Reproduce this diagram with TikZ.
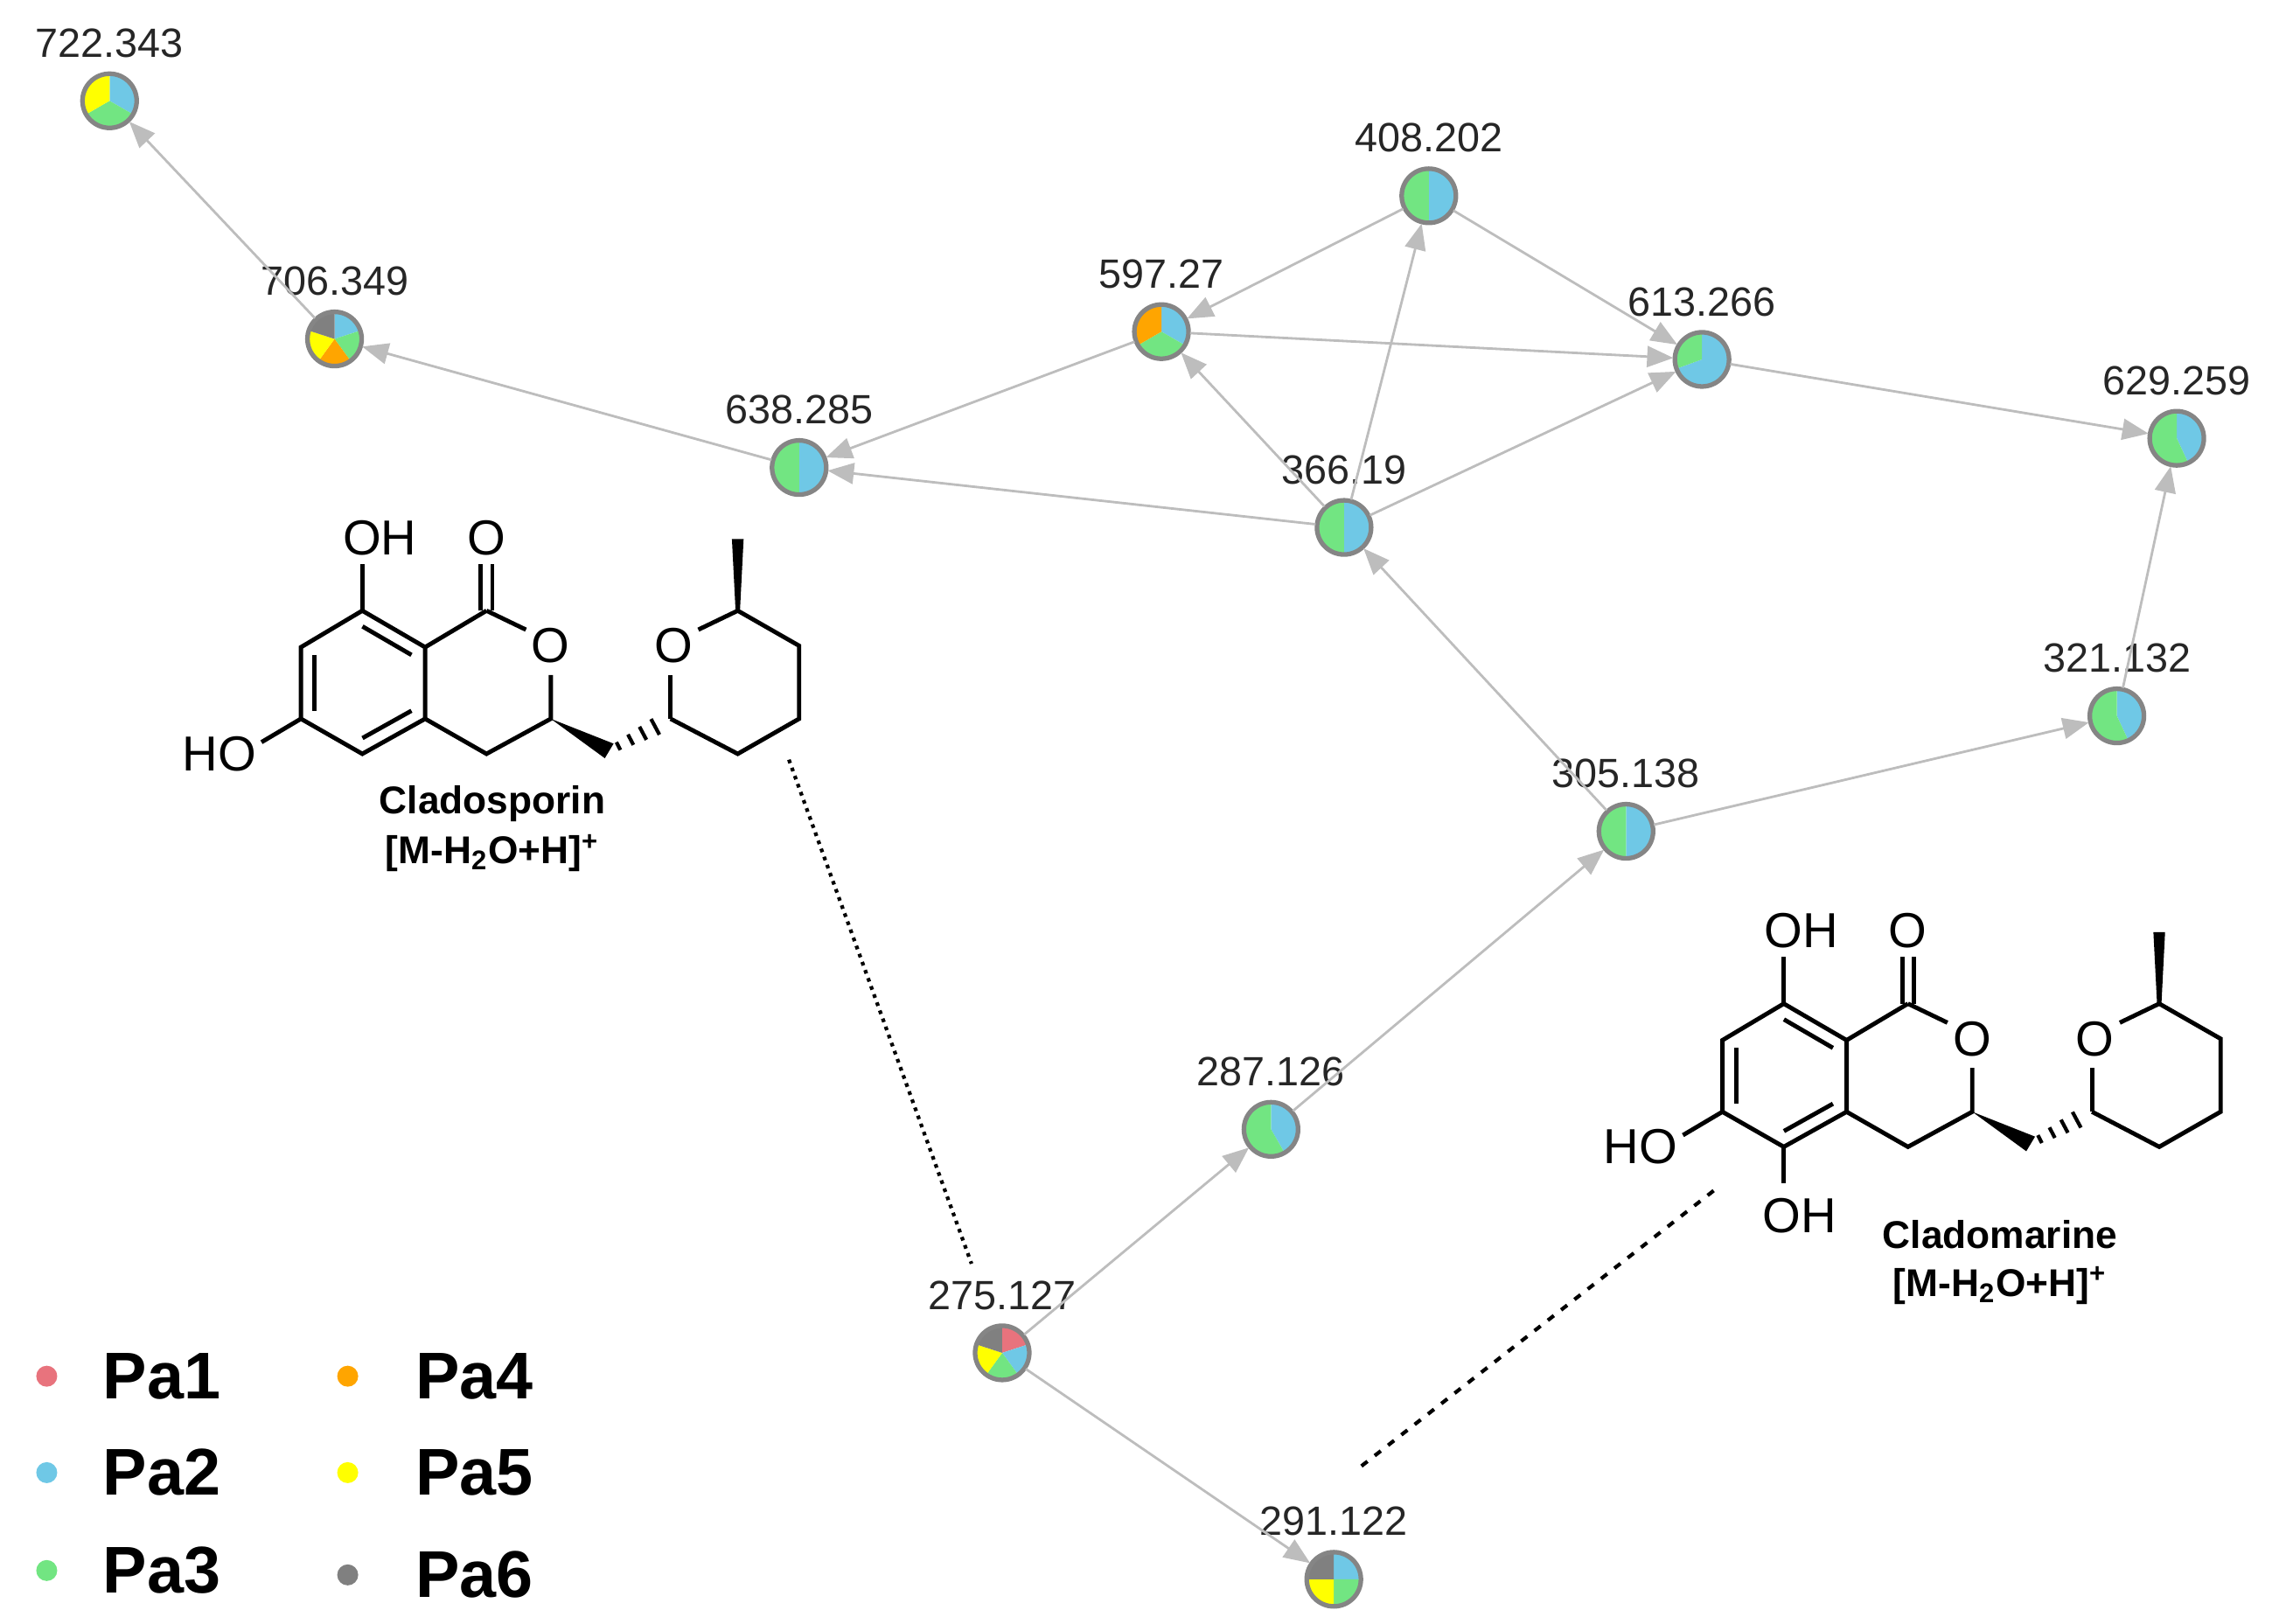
\documentclass[tikz,border=0pt]{standalone}
\usepackage{fontspec}
\setmainfont{Liberation Sans}
\usetikzlibrary{arrows.meta,calc}
\definecolor{pa1}{HTML}{E8737D}
\definecolor{pa2}{HTML}{6FC8E6}
\definecolor{pa3}{HTML}{72E582}
\definecolor{pa4}{HTML}{FFA500}
\definecolor{pa5}{HTML}{FFFF00}
\definecolor{pa6}{HTML}{808080}
\definecolor{edgegray}{HTML}{BDBDBD}
\definecolor{bordergray}{HTML}{858585}
\newcommand\pienode[5]{%
  \foreach \a/\b/\c in {#5} {\fill[\c] (#2,#3) -- ++(\a:0.3cm) arc[start angle=\a,end angle=\b,radius=0.3cm] -- cycle;}
  \node[pie,label={[lbl]90:#4}] (#1) at (#2,#3) {};}
\begin{document}
\begin{tikzpicture}[x=0.01671cm,y=-0.01671cm,
  pie/.style={circle,draw=bordergray,line width=1.5pt,minimum size=0.62cm,inner sep=0pt,outer sep=0.5pt},
  lbl/.style={font=\fontsize{13.3}{15}\selectfont,text=black!85,inner sep=0pt,label distance=0.16cm},
  edge/.style={draw=edgegray,line width=0.8pt,-{Triangle[length=0.3cm,width=0.24cm]}},
  bond/.style={line width=1.4pt,line cap=butt},
  atom/.style={font=\fontsize{16}{18}\selectfont,inner sep=0pt},
  cname/.style={font=\bfseries\fontsize{12.6}{14}\selectfont,inner sep=0pt,align=center},
  leg/.style={font=\bfseries\fontsize{21.5}{24}\selectfont,inner sep=0pt,anchor=west},
  dot/.style={circle,inner sep=0pt,minimum size=0.24cm}]
\useasboundingbox (0,0) rectangle (1560,1111.6);

% ---------- nodes ----------
\pienode{n722}{75}{69}{722.343}{-30/90/pa2,-150/-30/pa3,90/210/pa5}
\pienode{n706}{229}{232}{706.349}{18/90/pa2,-54/18/pa3,-126/-54/pa4,162/234/pa5,90/162/pa6}
\pienode{n597}{795}{227}{597.27}{-30/90/pa2,-150/-30/pa3,90/210/pa4}
\pienode{n408}{978}{134}{408.202}{-90/90/pa2,90/270/pa3}
\pienode{n613}{1165}{246}{613.266}{-160/90/pa2,90/200/pa3}
\pienode{n629}{1490}{300}{629.259}{-65/90/pa2,90/295/pa3}
\pienode{n638}{547}{320}{638.285}{-90/90/pa2,90/270/pa3}
\pienode{n366}{920}{361}{366.19}{-90/90/pa2,90/270/pa3}
\pienode{n321}{1449}{490}{321.132}{-65/90/pa2,90/295/pa3}
\pienode{n305}{1113}{569}{305.138}{-90/90/pa2,90/270/pa3}
\pienode{n287}{870}{773}{287.126}{-60/90/pa2,90/300/pa3}
\pienode{n275}{686}{926}{275.127}{18/90/pa1,-54/18/pa2,-126/-54/pa3,162/234/pa5,90/162/pa6}
\pienode{n291}{913}{1081}{291.122}{0/90/pa2,-90/0/pa3,180/270/pa5,90/180/pa6}

% ---------- edges ----------
\draw[edge] (n706) -- (n722);
\draw[edge] (n638) -- (n706);
\draw[edge] (n597) -- (n638);
\draw[edge] (n366) -- (n638);
\draw[edge] (n408) -- (n597);
\draw[edge] (n366) -- (n597);
\draw[edge] (n366) -- (n408);
\draw[edge] (n408) -- (n613);
\draw[edge] (n597) -- (n613);
\draw[edge] (n366) -- (n613);
\draw[edge] (n613) -- (n629);
\draw[edge] (n321) -- (n629);
\draw[edge] (n305) -- (n321);
\draw[edge] (n305) -- (n366);
\draw[edge] (n287) -- (n305);
\draw[edge] (n275) -- (n287);
\draw[edge] (n275) -- (n291);

% ---------- molecules ----------
\foreach \sx/\sy/\extra in {0/0/0,973/269/1}{
\begin{scope}[shift={(\sx,\sy)}]
  \coordinate (A8) at (248,418); \coordinate (A8a) at (291,443);
  \coordinate (A4a) at (291,492); \coordinate (A5) at (248,516);
  \coordinate (A6) at (206,492); \coordinate (A7) at (206,443);
  \coordinate (Cc) at (248.5,467);
  \draw[bond,line join=miter] (A8) -- (A8a) -- (A4a) -- (A5) -- (A6) -- (A7) -- cycle;
  \draw[bond] ($(Cc)!0.78!(A8)$) -- ($(Cc)!0.78!(A8a)$);
  \draw[bond] ($(Cc)!0.78!(A7)$) -- ($(Cc)!0.78!(A6)$);
  \draw[bond] ($(Cc)!0.78!(A5)$) -- ($(Cc)!0.78!(A4a)$);
  \draw[bond] (A8) -- (248,386);
  \node[atom] (oh1) at (260,368) {OH};
  \draw[bond] (A6) -- (179,508);
  \node[atom] (ho1) at (150,516) {HO};
  \coordinate (C1) at (333,418);
  \draw[bond] (A8a) -- (C1);
  \draw[bond] (329,418) -- (329,386);
  \draw[bond] (337,418) -- (337,386);
  \node[atom] (o1) at (333,368) {O};
  \draw[bond] (C1) -- (360,431);
  \node[atom] (o2) at (377,442) {O};
  \coordinate (C3) at (377,492); \coordinate (C4) at (333,516);
  \draw[bond,line join=miter] (377,462) -- (C3) -- (C4) -- (A4a);
  \fill (C3) -- (414,519) -- (420,509) -- cycle;
  \foreach \t in {0.15,0.35,0.55,0.75}{
    \draw[line width=1.2pt] ($(417,514)!\t!(459,492)+(-2.5*\t-1,-4.5*\t-2)$) -- ($(417,514)!\t!(459,492)+(2.5*\t+1,4.5*\t+2)$);}
  \coordinate (C2p) at (459,492);
  \draw[bond] (C2p) -- (459,462);
  \node[atom] (o3) at (461,442) {O};
  \coordinate (C6p) at (505,418); \coordinate (C5p) at (547,442);
  \coordinate (C4p) at (547,492); \coordinate (C3p) at (505,516);
  \draw[bond,line join=miter] (478,431) -- (C6p) -- (C5p) -- (C4p) -- (C3p) -- (C2p);
  \fill (503.5,418) -- (501,369) -- (509,369) -- (506.5,418) -- cycle;
  \ifnum\extra=1
    \draw[bond] (A5) -- (248,541);
    \node[atom] (oh5) at (259,563) {OH};
  \fi
\end{scope}}
\node[cname] (nm1) at (337,550) {Cladosporin};
\node[cname] (f1) at (337,584) {[M-H\textsubscript{2}O+H]\textsuperscript{+}};
\node[cname] (nm2) at (1369,845) {Cladomarine};
\node[cname] (f2) at (1369,880) {[M-H\textsubscript{2}O+H]\textsuperscript{+}};

\coordinate (d1) at (540,520);
\coordinate (d1e) at (665,865);
\coordinate (d2) at (1173,815);
\coordinate (d2e) at (930,1005);
\draw[line width=1.2pt,dash pattern=on 1.2pt off 1.6pt] (d1) -- (d1e);
\draw[line width=1.2pt,dash pattern=on 2.5pt off 3pt] (d2) -- (d2e);

% ---------- legend ----------
\node[dot,fill=pa1] (l1) at (32,942) {};
\node[leg] (t1) at (70,942) {Pa1};
\node[dot,fill=pa2] (l2) at (32,1008) {};
\node[leg] (t2) at (70,1008) {Pa2};
\node[dot,fill=pa3] (l3) at (32,1075) {};
\node[leg] (t3) at (70,1075) {Pa3};
\node[dot,fill=pa4] (l4) at (238,942) {};
\node[leg] (t4) at (284,942) {Pa4};
\node[dot,fill=pa5] (l5) at (238,1008) {};
\node[leg] (t5) at (284,1008) {Pa5};
\node[dot,fill=pa6] (l6) at (238,1078) {};
\node[leg] (t6) at (284,1078) {Pa6};
\end{tikzpicture}
\end{document}
